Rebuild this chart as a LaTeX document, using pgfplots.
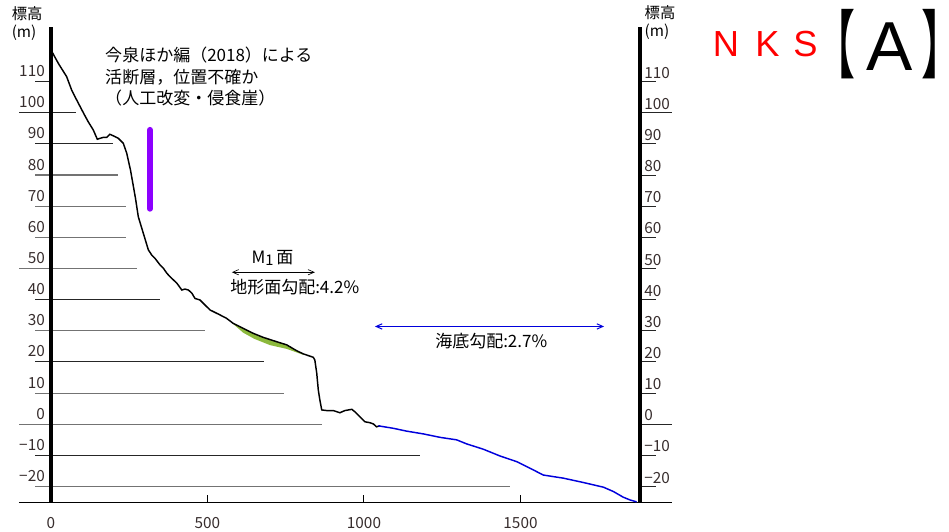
\documentclass[border=0pt]{standalone}
\usepackage{pgfplots}
\pgfplotsset{compat=1.18}
\usepackage{graphicx}
\usepackage{fontspec}
\setmainfont{Noto Sans CJK JP}
\newfontfamily\arial{Liberation Sans}
\newfontfamily\cjkp[RawFeature=+palt]{Noto Sans CJK JP}
\usetikzlibrary{arrows.meta}
\definecolor{profgreen}{RGB}{140,185,60}
\definecolor{violetline}{RGB}{140,0,255}
\definecolor{seablue}{RGB}{0,0,220}
\definecolor{lbl}{RGB}{55,45,45}
\begin{document}
\begin{tikzpicture}[
  dk/.style={black!85, line width=0.75pt},
  gr/.style={black!55, line width=0.9pt},
  lb/.style={font=\fontsize{11.5}{13}\selectfont, text=lbl, inner sep=0pt},
  ann/.style={font=\fontsize{12.75}{15}\selectfont, inner sep=0pt}]
\begin{axis}[scale only axis, width=489.5pt, height=356.7pt,
  xmin=-102.2, xmax=1983, ymin=-25.04, ymax=127.64, hide axis, clip=false]
% left reference lines
\addplot[dk] coordinates {(-51,110)(0,110)};
\addplot[dk] coordinates {(-102,100)(80,100)};
\addplot[dk] coordinates {(-51,90)(198,90)};
\addplot[gr] coordinates {(-51,80)(214,80)};
\addplot[gr] coordinates {(-51,70)(240,70)};
\addplot[gr] coordinates {(-51,60)(240,60)};
\addplot[gr] coordinates {(-102,50)(275,50)};
\addplot[dk] coordinates {(-51,40)(348,40)};
\addplot[gr] coordinates {(-51,30)(492,30)};
\addplot[dk] coordinates {(-51,20)(681,20)};
\addplot[gr] coordinates {(-51,10)(744,10)};
\addplot[gr] coordinates {(-102,0)(866,0)};
\addplot[dk] coordinates {(-51,-10)(1179,-10)};
\addplot[gr] coordinates {(-51,-20)(1466,-20)};
% right reference lines
\addplot[dk] coordinates {(1882,110)(1933,110)};
\addplot[dk] coordinates {(1882,100)(1983,100)};
\addplot[dk] coordinates {(1882,90)(1933,90)};
\addplot[dk] coordinates {(1882,80)(1933,80)};
\addplot[dk] coordinates {(1882,70)(1933,70)};
\addplot[dk] coordinates {(1882,60)(1933,60)};
\addplot[dk] coordinates {(1882,50)(1933,50)};
\addplot[dk] coordinates {(1882,40)(1933,40)};
\addplot[dk] coordinates {(1882,30)(1933,30)};
\addplot[dk] coordinates {(1882,20)(1933,20)};
\addplot[dk] coordinates {(1882,10)(1933,10)};
\addplot[dk] coordinates {(1882,0)(1983,0)};
\addplot[dk] coordinates {(1882,-10)(1933,-10)};
\addplot[dk] coordinates {(1882,-20)(1933,-20)};
% bottom axis and ticks
\addplot[black, line width=0.9pt] coordinates {(-102.2,-25.04)(1983,-25.04)};
\addplot[black, line width=0.75pt] coordinates {(500,-25.04)(500,-22.7)};
\addplot[black, line width=0.75pt] coordinates {(1000,-25.04)(1000,-22.7)};
\addplot[black, line width=0.75pt] coordinates {(1500,-25.04)(1500,-22.7)};
% green surface
\addplot[fill=profgreen, draw=none] coordinates {(582,32.4)(614,30.8)(646,29.2)(678,27.9)(721,26.5)(753,25.5)(785,23.6)(806,22.6)(806,22.3)(753,24.2)(700,25.4)(650,27.4)(614,29.4)(582,32.2)} -- cycle;
% land profile
\addplot[black, line width=1.1pt] coordinates {
(0,120.2)(10,118.3)(25,115.6)(50,111.6)(66,107.3)(80,104.5)(93,102)(106,99.5)(119,97.1)
(135,94.5)(148,91.5)(157,91.8)(167,92.1)(178,92.1)(188,93.1)(199,92.6)(215,91.8)(231,90.2)
(242,87)(254,81.6)(263,76.5)(270,72.5)(279,66.6)(295,61.3)(311,56)(322,54.3)(332,53.3)
(348,51.2)(359,50.1)(370,48.5)(380,47.4)(402,45.3)(418,43.1)(428,43.4)(439,43.1)(450,42.1)
(460,40.4)(476,39.9)(492,38.3)(508,36.7)(540,35.1)(561,34)(582,32.4)(614,30.8)(646,29.2)
(678,27.9)(721,26.5)(753,25.5)(785,23.6)(806,22.6)(838,21.5)(843,20.6)(849,16.4)(854,11)
(859,7.8)(865,4.6)(881,4.4)(902,4.4)(923,3.7)(939,4.4)(961,4.8)(971,4.0)(987,2.4)(1003,0.8)
(1019,0.5)(1030,0.1)(1040,-0.8)(1051,-0.5)};
% sea floor profile
\addplot[seablue, line width=1.1pt] coordinates {
(1046,-0.5)(1094,-1.3)(1136,-2.2)(1190,-3.1)(1243,-4.2)(1296,-5.0)(1328,-6.3)(1381,-8.0)
(1435,-10.2)(1488,-12.0)(1530,-14.1)(1573,-16.3)(1637,-17.3)(1701,-18.7)(1765,-20.2)
(1797,-21.6)(1828,-23.4)(1850,-24.3)(1871,-24.9)};
% fault
\addplot[violetline, line width=4.5pt, line cap=round] coordinates {(316,94.5)(316,69.2)};
% axes
\addplot[black, line width=2.5pt] coordinates {(0,-25.04)(0,127.64)};
\addplot[black, line width=2.5pt] coordinates {(1882,-25.04)(1882,127.64)};
% arrows
\addplot[black, line width=0.5pt, {Straight Barb[length=4.5pt,width=4pt]}-{Straight Barb[length=4.5pt,width=4pt]}] coordinates {(578,48.8)(843,48.8)};
\addplot[seablue, line width=0.75pt, {Straight Barb[length=4.5pt,width=4pt]}-{Straight Barb[length=4.5pt,width=4pt]}] coordinates {(1035,31.4)(1767,31.4)};
% y labels left
\node[lb, anchor=base east] at (axis cs:-19,111.6) {110};
\node[lb, anchor=base east] at (axis cs:-19,101.6) {100};
\node[lb, anchor=base east] at (axis cs:-19,91.6) {90};
\node[lb, anchor=base east] at (axis cs:-19,81.6) {80};
\node[lb, anchor=base east] at (axis cs:-19,71.6) {70};
\node[lb, anchor=base east] at (axis cs:-19,61.6) {60};
\node[lb, anchor=base east] at (axis cs:-19,51.6) {50};
\node[lb, anchor=base east] at (axis cs:-19,41.6) {40};
\node[lb, anchor=base east] at (axis cs:-19,31.6) {30};
\node[lb, anchor=base east] at (axis cs:-19,21.6) {20};
\node[lb, anchor=base east] at (axis cs:-19,11.6) {10};
\node[lb, anchor=base east] at (axis cs:-19,1.6) {0};
\node[lb, anchor=base east] at (axis cs:-19,-8.4) {−10};
\node[lb, anchor=base east] at (axis cs:-19,-18.4) {−20};
% y labels right
\node[lb, anchor=base west] at (axis cs:1894.6,111.1) {110};
\node[lb, anchor=base west] at (axis cs:1894.6,101.1) {100};
\node[lb, anchor=base west] at (axis cs:1894.6,91.1) {90};
\node[lb, anchor=base west] at (axis cs:1894.6,81.1) {80};
\node[lb, anchor=base west] at (axis cs:1894.6,71.1) {70};
\node[lb, anchor=base west] at (axis cs:1894.6,61.1) {60};
\node[lb, anchor=base west] at (axis cs:1894.6,51.1) {50};
\node[lb, anchor=base west] at (axis cs:1894.6,41.1) {40};
\node[lb, anchor=base west] at (axis cs:1894.6,31.1) {30};
\node[lb, anchor=base west] at (axis cs:1894.6,21.1) {20};
\node[lb, anchor=base west] at (axis cs:1894.6,11.1) {10};
\node[lb, anchor=base west] at (axis cs:1894.6,1.1) {0};
\node[lb, anchor=base west] at (axis cs:1894.6,-8.9) {−10};
\node[lb, anchor=base west] at (axis cs:1894.6,-18.9) {−20};
% x labels
\node[lb, anchor=base] at (axis cs:0,-33.4) {0};
\node[lb, anchor=base] at (axis cs:500,-33.4) {500};
\node[lb, anchor=base] at (axis cs:1000,-33.4) {1000};
\node[lb, anchor=base] at (axis cs:1500,-33.4) {1500};
% axis titles
\node[lb, text=black, anchor=base west] at (axis cs:-126,129.8) {標高};
\node[lb, text=black, anchor=base west] at (axis cs:-126,124.0) {(m)};
\node[lb, text=black, anchor=base west] at (axis cs:1896,130.4) {標高};
\node[lb, text=black, anchor=base west] at (axis cs:1896,124.6) {(m)};
% annotations
\node[ann, anchor=base west] at (axis cs:172.5,116.6) {今泉ほか編（2018）による};
\node[ann, anchor=base west] at (axis cs:172.5,109.3) {活断層，位置不確か};
\node[ann, anchor=base west] at (axis cs:172.5,102.7) {（人工改変・侵食崖）};
\node[ann, anchor=base] at (axis cs:707.7,51.7) {M\raisebox{-0.3ex}{\fontsize{11}{12}\selectfont 1}\,面};
\node[ann, anchor=base west] at (axis cs:571.9,42.1) {地形面勾配:4.2\%};
\node[ann, anchor=base west] at (axis cs:1226.8,24.5) {海底勾配:2.7\%};
% title
\node[inner sep=0pt, text=red, font=\arial\fontsize{27.2}{30}\selectfont, anchor=base] at (axis cs:2156.5,118.0) {N};
\node[inner sep=0pt, text=red, font=\arial\fontsize{27.2}{30}\selectfont, anchor=base] at (axis cs:2289,118.0) {K};
\node[inner sep=0pt, text=red, font=\arial\fontsize{27.2}{30}\selectfont, anchor=base] at (axis cs:2410.5,118.0) {S};
\node[inner sep=0pt, font=\arial\fontsize{52}{56}\selectfont, anchor=base] at (axis cs:2680.5,113.7) {A};
\node[inner sep=0pt, font=\cjkp\fontsize{56}{60}\selectfont, anchor=center] at (axis cs:2535,122.1) {\scalebox{0.55}[1]{【}};
\node[inner sep=0pt, font=\cjkp\fontsize{56}{60}\selectfont, anchor=center] at (axis cs:2816,122.1) {\scalebox{0.55}[1]{】}};
\coordinate (bbl) at (axis cs:-162.9,-34.57);
\coordinate (btr) at (axis cs:2869,136.2);
\end{axis}
\pgfresetboundingbox
\path[use as bounding box] (bbl) rectangle (btr);
\end{tikzpicture}
\end{document}
